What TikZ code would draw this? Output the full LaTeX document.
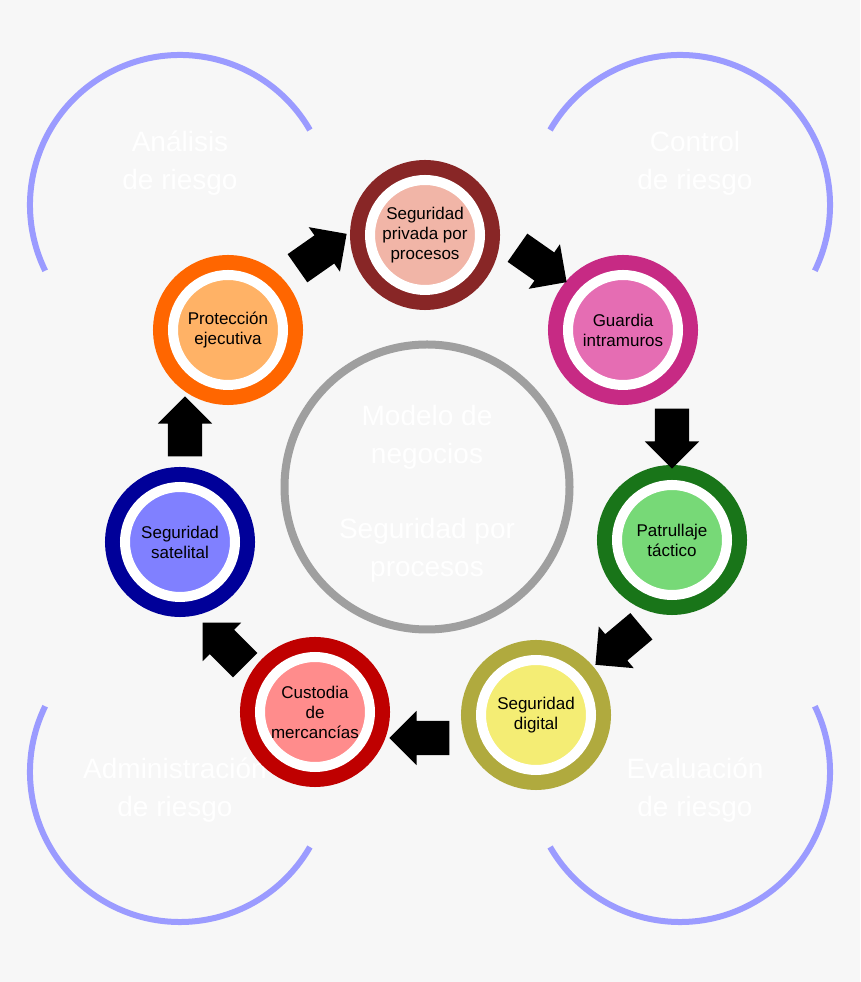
\documentclass[tikz,border=0pt]{standalone}
\usepackage{fontspec}
\setmainfont{Liberation Sans}
\usetikzlibrary{shapes.arrows}
\definecolor{bg}{HTML}{F7F7F7}
\definecolor{arcblue}{HTML}{9B9BFF}
\begin{document}
\begin{tikzpicture}[x=1pt,y=1pt,
  stage/.style 2 args={shape=circle,minimum size=110pt,inner sep=0pt,align=center,
    fill=#2,draw=white,line width=10pt,font=\fontsize{17}{20}\selectfont,
    preaction={draw=#1,line width=40pt}},
  flowarrow/.style={single arrow,fill=black,minimum height=60pt,
    single arrow head extend=10pt,inner xsep=0pt,inner ysep=17pt},
  area/.style={text=white,align=center,font=\fontsize{28}{38}\selectfont},
  ring/.style={draw=arcblue,line width=6pt}
]
  \fill[bg] (0,0) rectangle (860,982);
  \useasboundingbox (0,0) rectangle (860,982);

  % outer arcs
  \draw[ring] (180,777) ++(206:150) arc (206:30:150);
  \draw[ring] (680,777) ++(150:150) arc (150:-26:150);
  \draw[ring] (180,210) ++(154:150) arc (154:330:150);
  \draw[ring] (680,210) ++(210:150) arc (210:386:150);
  \node[area] (analisis) at (180,819) {Análisis\\de riesgo};
  \node[area] (control)  at (695,819) {Control\\de riesgo};
  \node[area] (admin)    at (175,192) {Administración\\de riesgo};
  \node[area] (eval)     at (695,192) {Evaluación\\de riesgo};

  % center
  \node[circle,draw=gray!75,line width=8pt,minimum size=285pt] (modelo) at (427,495) {};
  \node[area] (negocios) at (427,545) {Modelo de\\negocios};
  \node[area] (procesos) at (427,432) {Seguridad por\\procesos};

  % stages
  \node[stage={red!45!black!85!white}{red!45!brown!40!white}] (privada) at (425,747) {Seguridad\\privada por\\procesos};
  \node[stage={magenta!80!black}{magenta!55!white!85!violet}] (guardia) at (623,652) {Guardia\\intramuros};
  \node[stage={green!40!black!90!white}{green!45!white!85!black}] (patrulla) at (672,442) {Patrullaje\\táctico};
  \node[stage={yellow!65!black}{yellow!55!white!95!black}] (digital) at (536,267) {Seguridad\\digital};
  \node[stage={red!75!black}{red!45!white}] (custodia) at (315,270) {Custodia\\de\\mercancías};
  \node[stage={blue!60!black}{blue!50!white}] (satelital) at (180,440) {Seguridad\\satelital};
  \node[stage={orange!80!red}{orange!60!white}] (proteccion) at (228,652) {Protección\\ejecutiva};

  % arrows
  \node[flowarrow,rotate=35]  (a1) at (315,726) {};
  \node[flowarrow,rotate=-35] (a2) at (535,722) {};
  \node[flowarrow,rotate=-90] (a3) at (672,552) {};
  \node[flowarrow,rotate=-140] (a4) at (625,342) {};
  \node[flowarrow,rotate=180] (a5) at (428,244) {};
  \node[flowarrow,rotate=135] (a6) at (230,332) {};
  \node[flowarrow,rotate=90]  (a7) at (185,547) {};
\end{tikzpicture}
\end{document}
